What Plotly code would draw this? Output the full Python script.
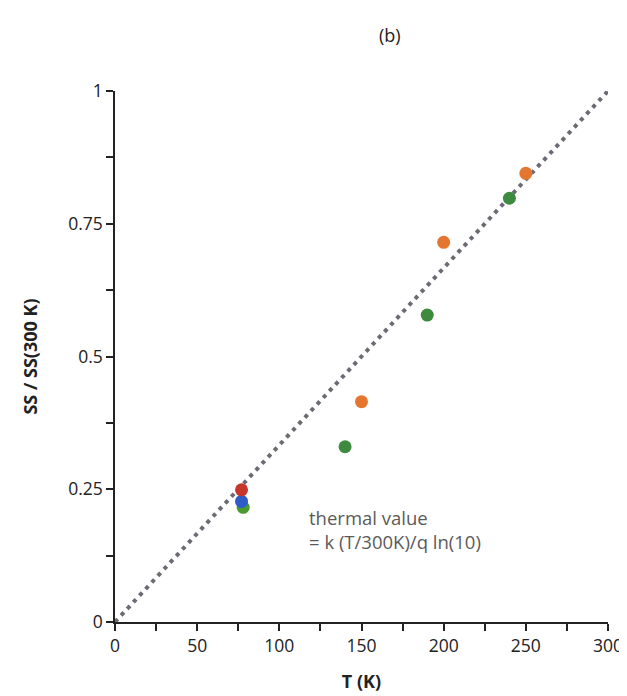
import plotly.graph_objects as go

# Data
orange_T = [150, 200, 250]
orange_ss = [0.415, 0.715, 0.845]
green_T = [140, 190, 240]
green_ss = [0.33, 0.578, 0.798]
red_T = [77]
red_ss = [0.249]
blue_T = [77]
blue_ss = [0.227]
green77_T = [78]
green77_ss = [0.216]
navy_T = [300]
navy_ss = [1.003]
line_T = [0, 300]
line_ss = [0, 1]

x_tickvals = [0, 50, 100, 150, 200, 250, 300]
y_tickvals = [0, 0.25, 0.5, 0.75, 1]
y_ticktext = ["0", "0.25", "0.5", "0.75", "1"]

FONT = "Open Sans, Lato, sans-serif"

fig = go.Figure()
fig.add_trace(go.Scatter(x=line_T, y=line_ss, mode="lines",
                         line=dict(color="#6b6b73", width=4, dash="4px,5px"),
                         hoverinfo="skip", showlegend=False))

def pts(x, y, color):
    fig.add_trace(go.Scatter(x=x, y=y, mode="markers",
                             marker=dict(size=13, color=color, line=dict(width=0)),
                             showlegend=False, cliponaxis=False))

pts(orange_T, orange_ss, "#e5762f")
pts(green_T, green_ss, "#3e8a3e")
pts(green77_T, green77_ss, "#4a9a30")
pts(blue_T, blue_ss, "#2f5bc8")
pts(red_T, red_ss, "#c8352a")
pts(navy_T, navy_ss, "#1e2a8c")

fig.add_annotation(x=0.39, xref="paper", y=0.175, yref="paper", xanchor="left", yanchor="middle",
                   text="thermal value<br>= k (T/300K)/q ln(10)", showarrow=False, align="left",
                   font=dict(family=FONT, size=18.5, color="#5a5a5a"))
fig.add_annotation(xref="paper", x=(382 - 107) / (627 - 107 - 27),
                   yref="paper", y=1 + (83 - 27) / (696 - 83 - 82), yanchor="middle",
                   text="(b)", showarrow=False, font=dict(family=FONT, size=18, color="#222"))

fig.update_layout(
    width=627, height=696,
    margin=dict(l=107, r=27, t=83, b=82),
    paper_bgcolor="white", plot_bgcolor="white",
    font=dict(family=FONT, size=17, color="#222"),
)

fig.update_xaxes(range=[0, 300], tickvals=x_tickvals, ticks="outside", ticklen=7, tickwidth=1.5,
                 tickcolor="#222", showline=True, linecolor="#222", linewidth=1.5,
                 showgrid=False, zeroline=False,
                 minor=dict(dtick=25, tick0=0, ticks="outside", ticklen=7, tickwidth=1.5, tickcolor="#222"),
                 title=dict(text="<b>T (K)</b>", font=dict(family=FONT, size=18), standoff=20),
                 tickfont=dict(family=FONT, size=17.5, color="#222"))
fig.update_yaxes(range=[0, 1], tickvals=y_tickvals, ticktext=y_ticktext, ticks="outside", ticklen=7,
                 tickwidth=1.5, tickcolor="#222", showline=True, linecolor="#222", linewidth=1.5,
                 showgrid=False, zeroline=False,
                 minor=dict(dtick=0.125, tick0=0, ticks="outside", ticklen=7, tickwidth=1.5, tickcolor="#222"),
                 title=dict(text="<b>SS / SS(300 K)</b>", font=dict(family=FONT, size=18), standoff=26),
                 tickfont=dict(family=FONT, size=17.5, color="#222"))

fig.write_html("out.html")
